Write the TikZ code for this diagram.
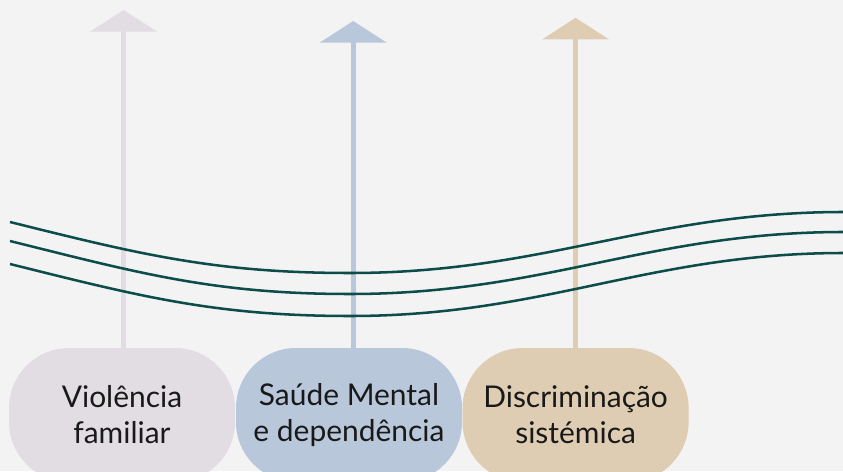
\documentclass[tikz,border=0pt]{standalone}
\usepackage{fontspec}
\setmainfont{Lato}
\usetikzlibrary{arrows.meta}
\usepackage{xcolor}
\definecolor{bg}{HTML}{F3F3F4}
\definecolor{lila}{HTML}{E2DCE3}
\definecolor{azul}{HTML}{B8C7DA}
\definecolor{bege}{HTML}{DFCDB3}
\definecolor{verde}{HTML}{0C4D4A}

\begin{document}
\begin{tikzpicture}
[box/.style={rounded corners=1.5cm,minimum width=5.65cm,minimum height=3.35cm,align=center,text=black!90,font=\fontsize{21.3}{25.6}\selectfont},
 seta/.style={line width=3.6pt,-{Triangle[width=1.65cm,length=0.54cm]}},
 onda/.style={line width=1.8pt,draw=verde}]
\fill[bg] (0,0) rectangle (21.075,11.775);
\useasboundingbox (0,0) rectangle (21.075,11.775);
\draw (3.05,1.4) node[box,fill=lila] (viol) {Violência\\familiar};
\draw (8.725,1.4) node[box,fill=azul] (saude) {Saúde Mental\\e dependência};
\draw (14.39,1.4) node[box,fill=bege] (disc) {Discriminação\\sistémica};
\coordinate (tviol) at (3.09,11.525);
\coordinate (tsaude) at (8.83,11.25);
\coordinate (tdisc) at (14.39,11.33);
\draw[seta,draw=lila,fill=lila] (tviol |- viol.north) -- (tviol);
\draw[seta,draw=azul,fill=azul] (tsaude |- saude.north) -- (tsaude);
\draw[seta,draw=bege,fill=bege] (tdisc |- disc.north) -- (tdisc);
\draw[onda] (0.25,6.225) to[out=-14,in=180] (8.75,4.95) to[out=0,in=180] (21.1,6.475);
\draw[onda] (0.25,5.75) to[out=-14,in=180] (8.75,4.425) to[out=0,in=180] (21.1,5.975);
\draw[onda] (0.25,5.175) to[out=-14,in=180] (8.75,3.875) to[out=0,in=180] (21.1,5.45);
\end{tikzpicture}
\end{document}
